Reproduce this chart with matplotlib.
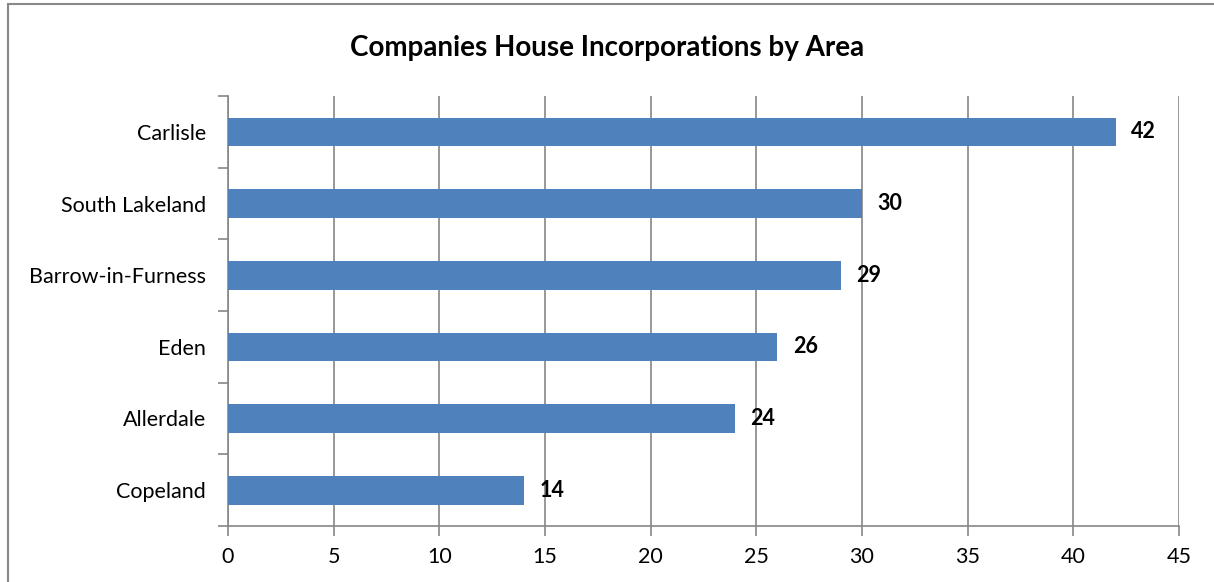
import matplotlib
matplotlib.use("Agg")
import matplotlib.pyplot as plt
from matplotlib.patches import Rectangle

categories = ["Copeland", "Allerdale", "Eden", "Barrow-in-Furness", "South Lakeland", "Carlisle"]
values = [14, 24, 26, 29, 30, 42]
xticks = [0, 5, 10, 15, 20, 25, 30, 35, 40, 45]
title = "Companies House Incorporations by Area"

plt.rcParams['font.family'] = ['Lato', 'DejaVu Sans']

fig = plt.figure(figsize=(12.14, 5.82), dpi=100)
ax = fig.add_axes([228/1214, 56/582, (1179-228)/1214, (526-96)/582])

ypos = list(range(len(categories)))
ax.barh(ypos, values, height=0.4, color="#4F81BD", zorder=3)
for y, v in zip(ypos, values):
    ax.annotate(str(v), (v, y), xytext=(11, 0), textcoords="offset points",
                va="center", ha="left", fontsize=15.5, fontweight="bold", color="black")

ax.set_xlim(0, 45)
ax.set_ylim(-0.5, len(categories) - 0.5)
ax.set_xticks(xticks)
ax.set_xticklabels([str(t) for t in xticks], fontsize=15.5)
ax.set_yticks(ypos)
ax.set_yticklabels(categories, fontsize=15.5)
ax.set_yticks([i - 0.5 for i in range(len(categories) + 1)], minor=True)
ax.tick_params(axis='y', which='major', length=0, pad=16)
ax.tick_params(axis='y', which='minor', length=7, color="#868686", width=1.2)
ax.tick_params(axis='x', length=7, color="#868686", width=1.2, pad=8)
ax.grid(axis='x', color="#868686", linewidth=1.2, zorder=0)
for s in ["top", "right"]:
    ax.spines[s].set_visible(False)
for s in ["left", "bottom"]:
    ax.spines[s].set_color("#868686")
    ax.spines[s].set_linewidth(1.2)

fig.text(0.5, 1 - 48/582, title, ha="center", va="center", fontsize=20, fontweight="bold")

fig.patches.append(Rectangle((8/1214, -0.05), 1.05, 1 - 4/582 + 0.05, transform=fig.transFigure,
                             fill=False, edgecolor="#888888", linewidth=1.5))

fig.savefig("out.png", dpi=100)
